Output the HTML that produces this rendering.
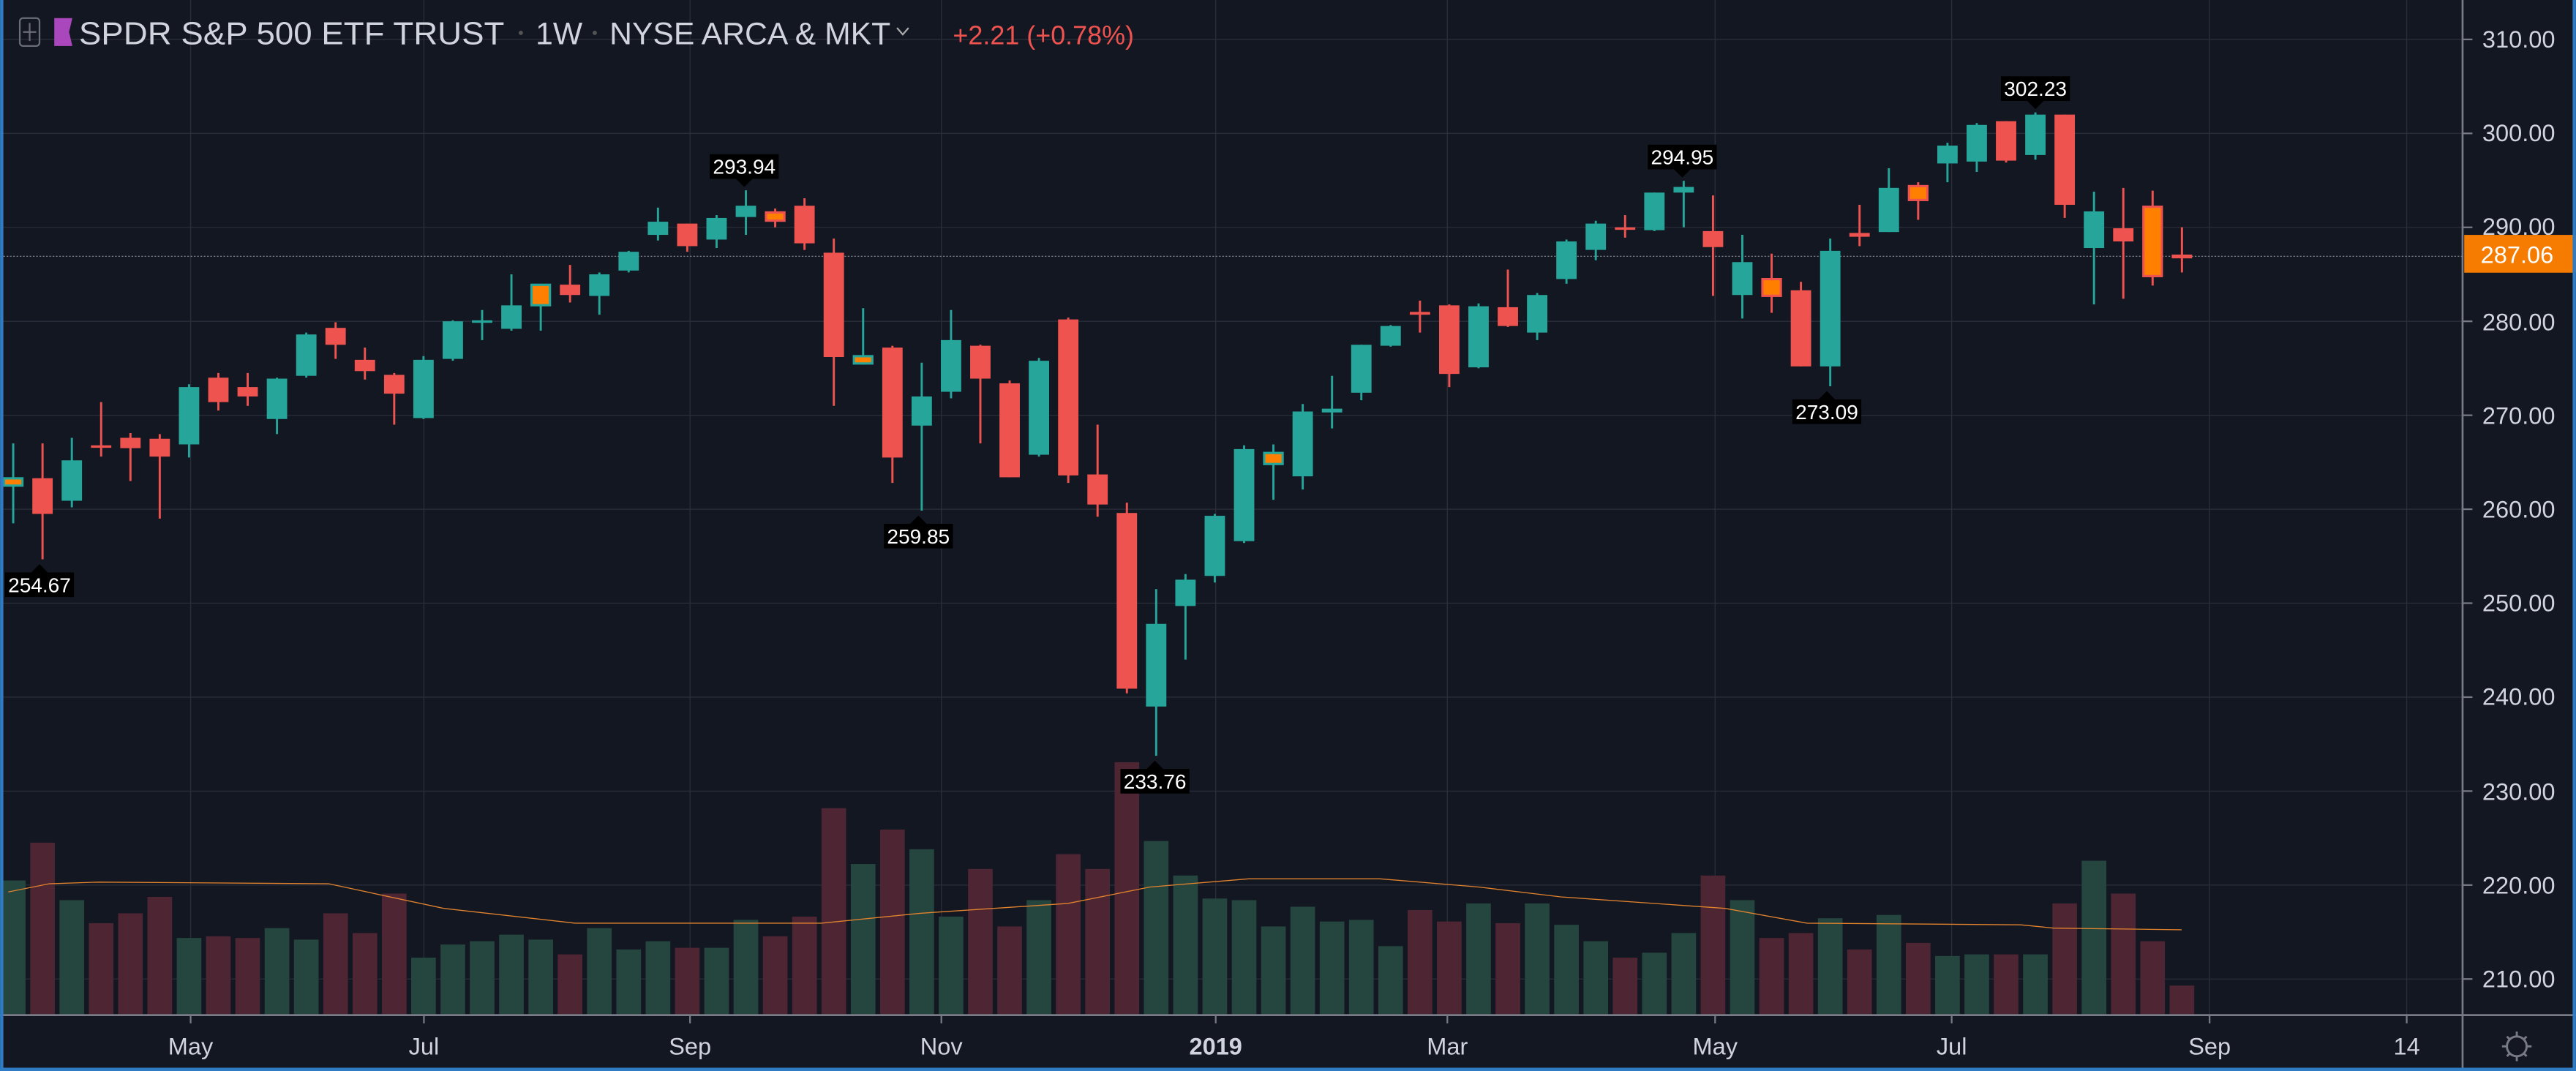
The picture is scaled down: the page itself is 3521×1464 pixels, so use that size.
<!DOCTYPE html>
<html><head><meta charset="utf-8">
<style>
html,body{margin:0;padding:0;background:#131722;overflow:hidden}
svg{display:block}
text{font-family:"Liberation Sans",sans-serif}
</style></head>
<body>
<svg id="c" width="3521" height="1464" viewBox="0 0 1568 652" xmlns="http://www.w3.org/2000/svg">
<rect x="0" y="0" width="1568" height="652" fill="#131722"/>
<g id="grid" stroke="#2a2e39" stroke-width="0.6"></g>
<line x1="0" y1="156" x2="1499" y2="156" stroke="#8a8e99" stroke-width="0.5" stroke-dasharray="1,1"/>
<g id="vol"></g>
<polyline id="ma" fill="none" stroke="#e0822e" stroke-width="0.6" points=""/>
<g id="cand"></g>
<line x1="1499" y1="0" x2="1499" y2="652" stroke="#787b86" stroke-width="1.2"/>
<line x1="0" y1="618" x2="1568" y2="618" stroke="#787b86" stroke-width="1.2"/>
<g fill="#d1d4dc" font-size="14.5">
<text x="1511" y="29">310.00</text><text x="1511" y="86">300.00</text><text x="1511" y="143">290.00</text>
<text x="1511" y="201">280.00</text><text x="1511" y="258">270.00</text><text x="1511" y="315">260.00</text>
<text x="1511" y="372">250.00</text><text x="1511" y="429">240.00</text><text x="1511" y="487">230.00</text>
<text x="1511" y="544">220.00</text><text x="1511" y="601">210.00</text>
</g>
<g fill="#d1d4dc" font-size="14.5" text-anchor="middle">
<text x="116" y="642">May</text><text x="258" y="642">Jul</text><text x="420" y="642">Sep</text>
<text x="573" y="642">Nov</text><text x="740" y="642" font-weight="bold">2019</text><text x="881" y="642">Mar</text>
<text x="1044" y="642">May</text><text x="1188" y="642">Jul</text><text x="1345" y="642">Sep</text><text x="1465" y="642">14</text>
</g>
<rect x="1500" y="143" width="68" height="23" fill="#f57c00"/>
<text x="1510" y="160" fill="#fff" font-size="14.5">287.06</text>
<g stroke="#787b86" stroke-width="1.3" fill="none">
<circle cx="1532" cy="637" r="6"/>
<line x1="1532" y1="628" x2="1532" y2="631"/><line x1="1532" y1="643" x2="1532" y2="646"/>
<line x1="1523" y1="637" x2="1526" y2="637"/><line x1="1538" y1="637" x2="1541" y2="637"/>
<line x1="1526" y1="631" x2="1528" y2="633"/><line x1="1536" y1="641" x2="1538" y2="643"/>
<line x1="1538" y1="631" x2="1536" y2="633"/><line x1="1526" y1="643" x2="1528" y2="641"/>
</g>
<rect x="0" y="0" width="2" height="652" fill="#2f7cc4"/>
<rect x="0" y="650" width="1568" height="2" fill="#2f7cc4"/>
<rect x="1566" y="0" width="2" height="652" fill="#2f7cc4"/>
<rect x="12" y="11" width="12" height="17" rx="2" fill="none" stroke="#6a6d78" stroke-width="1"/>
<line x1="14" y1="19.5" x2="22" y2="19.5" stroke="#6a6d78"/><line x1="18" y1="14" x2="18" y2="25" stroke="#6a6d78"/>
<polygon points="33,11 44,11 42,19.5 44,28 33,28" fill="#ab47bc"/>
<text x="48" y="27" fill="#d1d4dc" font-size="19.5" textLength="259" lengthAdjust="spacingAndGlyphs">SPDR S&amp;P 500 ETF TRUST</text>
<circle cx="317" cy="20" r="1.3" fill="#555"/>
<text x="326" y="27" fill="#d1d4dc" font-size="19">1W</text>
<circle cx="362" cy="20" r="1.3" fill="#555"/>
<text x="371" y="27" fill="#d1d4dc" font-size="19">NYSE ARCA &amp; MKT</text>
<polyline points="546,17 549.5,21 553,17" fill="none" stroke="#aaa" stroke-width="1"/>
<text x="580" y="27" fill="#ef5350" font-size="16">+2.21 (+0.78%)</text>
<g id="lab"></g>
</svg>
<script>
var NS="http://www.w3.org/2000/svg";
function el(t,a,p){var e=document.createElementNS(NS,t);for(var k in a)e.setAttribute(k,a[k]);p.appendChild(e);return e;}
function Y(p){return 24+(310-p)*5.72;}
var g=document.getElementById('grid');
for(var p=210;p<=310;p+=10){el('line',{x1:0,y1:Y(p),x2:1499,y2:Y(p)},g);el('line',{x1:1499,y1:Y(p),x2:1505,y2:Y(p),stroke:'#787b86','stroke-width':1},g);}
[116,258,420,573,740,881,1044,1188,1345,1465].forEach(function(x){el('line',{x1:x,y1:0,x2:x,y2:618},g);el('line',{x1:x,y1:618,x2:x,y2:623,stroke:'#787b86','stroke-width':1},g);});
var D=[[262.6,267,258.5,263.2,'og'],[263.3,267,254.67,259.5],[260.9,267.6,260.2,265.2],[266.8,271.4,265.6,266.6],[267.6,268.1,263,266.5],[267.5,268,259,265.6],[266.9,273.3,265.5,273],[274,274.5,270.5,271.4],[273,274.5,271,272],[269.6,274,268,273.9],
[274.2,278.8,274,278.6],[279.3,279.9,276,277.5],[275.9,277.2,273.8,274.7],[274.3,274.5,269,272.3],[269.7,276.3,269.6,275.9],[276,280.1,275.8,280],[279.9,281.2,278,280.1],[279.2,285,279,281.7],[281.8,283.9,279,283.8,'og'],[283.9,286,282,282.8],
[282.7,285.2,280.7,285],[285.4,287.5,285.2,287.4],[289.2,292.1,288.6,290.6],[290.4,290.4,287.4,288],[288.7,291.3,287.8,291],[291.1,293.94,289.2,292.3],[291.5,292,290,290.8,'or'],[292.3,293.1,287.6,288.3],[287.3,288.8,271,276.2],[276.2,281.4,275.4,275.6,'og'],
[277.2,277.4,262.8,265.5],[268.9,275.6,259.85,272],[272.5,281.2,271.8,278],[277.4,277.5,267,273.9],[273.4,273.7,263.4,263.4],[265.8,276.1,265.6,275.8],[280.2,280.4,262.8,263.6],[263.7,269,259.2,260.5],[259.6,260.7,240.4,240.9],[239,251.5,233.76,247.8],
[249.7,253.1,244,252.5],[252.9,259.5,252.2,259.3],[256.6,266.8,256.4,266.4],[265.9,266.9,261,264.9,'og'],[263.5,271.2,262.1,270.4],[270.3,274.2,268.6,270.7],[272.4,277.5,271.6,277.5],[277.4,279.6,277.3,279.5],[281,282.2,278.8,280.7],[281.7,281.8,273,274.4],
[275.1,281.9,275,281.6],[281.5,285.5,279.4,279.5],[278.8,283,278,282.8],[284.5,288.7,284,288.5],[287.6,290.7,286.5,290.4],[290,291.3,288.9,289.8],[289.7,293.7,289.6,293.7],[293.7,294.95,290,294.3],[289.6,293.4,282.7,287.9],[282.8,289.2,280.3,286.3],
[284.4,287.2,280.9,282.8,'or'],[283.3,284.2,275.2,275.2],[275.2,288.8,273.09,287.5],[289.4,292.4,288,289],[289.5,296.3,289.5,294.2],[294.3,294.8,290.8,293,'or'],[296.8,299,294.8,298.7],[297,301.1,295.9,300.9],[301.3,301.3,296.9,297.1],[297.7,302.23,297.2,302],
[302,302,291,292.4],[287.8,293.8,281.8,291.7],[289.9,294.2,282.4,288.5],[292.1,293.9,283.8,284.9,'or'],[287.1,290,285.2,286.7]];
var V=[536,513,548,562,556,546,571,570,571,565,572,556,568,544,583,575,573,569,572,581,565,578,573,577,577,560,570,558,492,526,505,517,558,529,564,548,520,529,464,512,533,547,548,564,552,561,560,576,554,561,550,562,550,563,573,583,580,568,533,548,571,568,559,578,557,574,582,581,581,581,550,524,544,573,600];
var cg=document.getElementById('cand'),vg=document.getElementById('vol');
var G='#26a69a',R='#ef5350',O='#ff7f00';
D.forEach(function(d,i){
  var x=8+i*17.84,o=d[0],h=d[1],l=d[2],c=d[3],up=c>=o;
  var col=d[4]=='og'?G:d[4]=='or'?R:(up?G:R);
  var vc=(d[4]=='og'||(!d[4]&&up))?'#24463f':'#4e2532';
  if(d[4]=='or')vc='#4e2532';
  el('rect',{x:x-7.5,y:V[i],width:15,height:618-V[i],fill:vc},vg);
  el('line',{x1:x,y1:Y(h),x2:x,y2:Y(l),stroke:col,'stroke-width':1.3},cg);
  var t=Y(Math.max(o,c)),b=Y(Math.min(o,c));if(b-t<1.5){b=t+1.5;}
  if(d[4]){el('rect',{x:x-5.6,y:t-0.5,width:11.2,height:Math.max(b-t,2.5)+1,fill:O,stroke:col,'stroke-width':1.4},cg);}
  else el('rect',{x:x-6.2,y:t,width:12.4,height:b-t,fill:col},cg);
});
var M=[[5,543],[30,538],[60,537],[200,538],[270,553],[350,562],[500,562],[560,556],[650,550],[700,540],[760,535],[840,535],[900,540],[950,546],[1050,553],[1100,562],[1230,563],[1250,565],[1328,566]];
document.getElementById('ma').setAttribute('points',M.map(function(p){return p.join(',')}).join(' '));
var lg=document.getElementById('lab');
[[24,254.67,1],[453,293.94,0],[559,259.85,1],[703,233.76,1],[1024,294.95,0],[1112,273.09,1],[1239,302.23,0]].forEach(function(a){
  var x=a[0],y=Y(a[1]);var by=a[2]?y+8:y-22;
  el('rect',{x:x-21,y:by,width:42,height:15,fill:'#000'},lg);
  if(a[2])el('polygon',{points:(x-5)+','+(by)+' '+(x+5)+','+by+' '+x+','+(by-5)},lg);
  else el('polygon',{points:(x-5)+','+(by+15)+' '+(x+5)+','+(by+15)+' '+x+','+(by+20)},lg);
  var t=el('text',{x:x,y:by+12,fill:'#fff','font-size':12.5,'text-anchor':'middle'},lg);t.textContent=a[1].toFixed(2);
});
</script>
</body></html>
